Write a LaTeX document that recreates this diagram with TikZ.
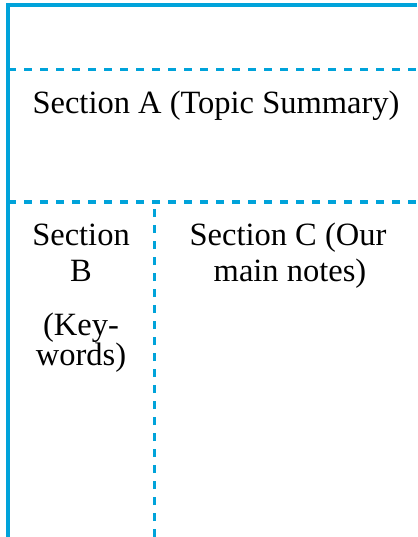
\documentclass[tikz,border=0pt]{standalone}
\usepackage{fontspec}
\setmainfont{Liberation Serif}
\newfontfamily\labelfont{Liberation Serif}
\definecolor{lineblue}{RGB}{0,163,218}
\begin{document}
\begin{tikzpicture}[x=1pt,y=-1pt,
  solidline/.style={draw=lineblue,line width=3.5pt},
  dashline/.style={draw=lineblue,line width=3pt,dash pattern=on 8pt off 8pt},
  lbl/.style={anchor=base,inner sep=0pt,font=\labelfont\fontsize{32.5}{37}\selectfont}]
\useasboundingbox (0,0) rectangle (417,537);
\coordinate (tl) at (8,5);
\coordinate (tr) at (417,5);
\coordinate (bl) at (8,537);
\coordinate (a1) at (8,70);
\coordinate (a2) at (417,70);
\coordinate (b1) at (8,202);
\coordinate (b2) at (417,202);
\coordinate (v1) at (154,202);
\coordinate (v2) at (154,537);
\draw[solidline] (tr) -- (tl) -- (bl);
\draw[dashline] (a1) -- (a2);
\draw[dashline] (b1) -- (b2);
\draw[dashline] (v2) -- (v1);
\node[lbl] (secA) at (216,114) {Section A (Topic Summary)};
\node[lbl] (secB1) at (81,245) {Section};
\node[lbl] (secB2) at (81,281) {B};
\node[lbl] (secB3) at (81,335) {(Key-};
\node[lbl] (secB4) at (81,365) {words)};
\node[lbl] (secC1) at (288,245) {Section C (Our};
\node[lbl] (secC2) at (290,281) {main notes)};
\end{tikzpicture}
\end{document}
